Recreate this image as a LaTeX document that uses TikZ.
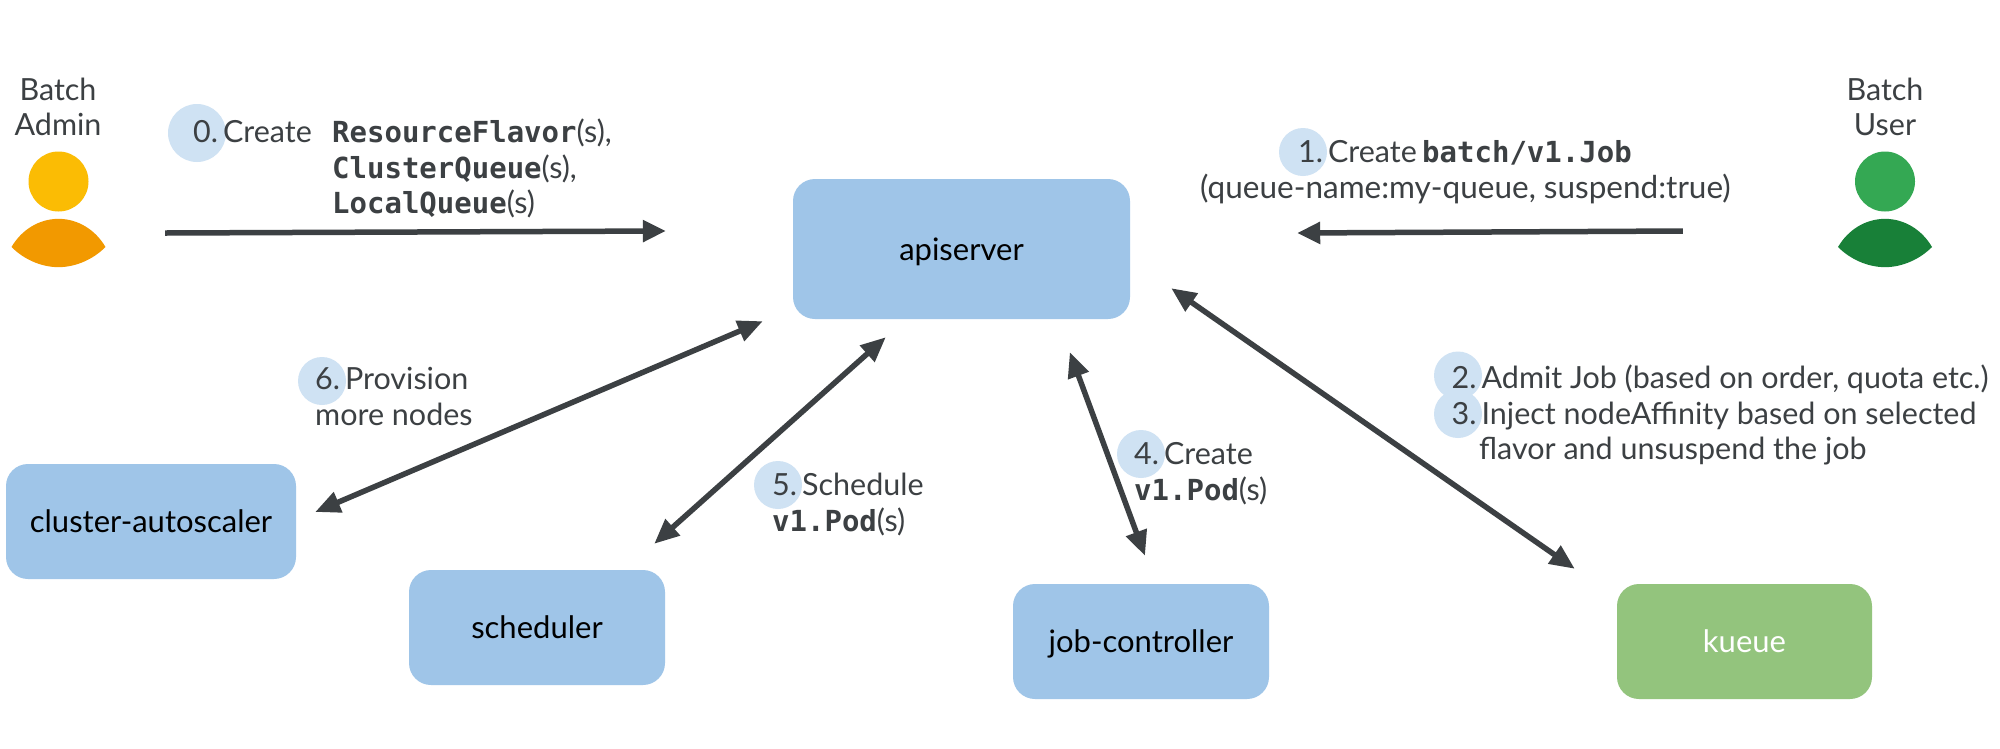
\documentclass[tikz,border=0pt]{standalone}
\usepackage{fontspec}
\setmainfont{Lato}
\newfontfamily\monob[BoldFont={DejaVu Sans Mono Bold}]{DejaVu Sans Mono}
\newcommand{\mb}[1]{{\monob\bfseries\fontsize{29}{34}\selectfont #1}}
\newcommand{\boxtext}[1]{\raisebox{-11pt}[0pt][0pt]{#1}}
\newcommand{\numgap}{\hspace{5pt}}
\newcommand{\lensbody}[2]{\fill[#2] ($(#1.center)+(-47,4)$)
  .. controls ($(#1.center)+(-37,-13)$) and ($(#1.center)+(-20,-24)$) .. (#1.north)
  .. controls ($(#1.center)+(20,-24)$) and ($(#1.center)+(37,-13)$) .. ($(#1.center)+(47,4)$)
  .. controls ($(#1.center)+(35,16)$) and ($(#1.center)+(18,24)$) .. (#1.south)
  .. controls ($(#1.center)+(-18,24)$) and ($(#1.center)+(-35,16)$) .. cycle;}
\usetikzlibrary{arrows.meta,calc}
\definecolor{boxblue}{HTML}{9FC5E8}
\definecolor{boxgreen}{HTML}{93C47D}
\definecolor{stepblue}{HTML}{CFE2F3}
\definecolor{ink}{HTML}{3C4043}
\definecolor{amberA}{HTML}{FBBC04}
\definecolor{amberB}{HTML}{F29900}
\definecolor{greenA}{HTML}{34A853}
\definecolor{greenB}{HTML}{188038}
\tikzset{
  x=1pt,y=-1pt,
  comp/.style={rectangle,rounded corners=22pt,inner sep=0pt,text=black,font=\fontsize{31}{36}\selectfont},
  compblue/.style={comp,fill=boxblue},
  lbl/.style={anchor=base west,inner sep=0pt,text=ink,font=\fontsize{30.5}{36}\selectfont},
  actor/.style={anchor=base,inner sep=0pt,text=ink,font=\fontsize{30.5}{36}\selectfont},
  badge/.style={circle,fill=stepblue,inner sep=0pt,minimum size=48pt},
  oneway/.style={draw=ink,line width=5.5pt,-{Triangle[length=23pt,width=21pt]}},
  twoway/.style={draw=ink,line width=5.5pt,{Triangle[length=25pt,width=21pt]}-{Triangle[length=25pt,width=21pt]}},
}
\begin{document}
\begin{tikzpicture}
\useasboundingbox (0,0) rectangle (2000,748);
\fill[white] (0,0) rectangle (2000,748);

% boxes
\node[compblue,minimum width=337pt,minimum height=140pt] (api) at (961.5,249) {\boxtext{apiserver}};
\node[compblue,minimum width=290pt,minimum height=115pt] (auto) at (151,521.5) {\boxtext{cluster-autoscaler}};
\node[compblue,minimum width=256pt,minimum height=115pt] (sched) at (537,627.5) {\boxtext{scheduler}};
\node[compblue,minimum width=256pt,minimum height=115pt] (jobc) at (1141,641.5) {\boxtext{job-controller}};
\node[comp,fill=boxgreen,text=white,minimum width=255pt,minimum height=115pt] (kueue) at (1744.5,641.5) {\boxtext{kueue}};

% badges
\node[badge,minimum size=58pt] (b0) at (197,133) {};
\node[badge] (b1) at (1303,152) {};
\node[badge] (b2) at (1458,375.5) {};
\node[badge] (b3) at (1458,414) {};
\node[badge] (b4) at (1141,454) {};
\node[badge] (b5) at (778,485) {};
\node[badge] (b6) at (322,381) {};

% actors
\node[circle,fill=amberA,minimum size=60pt,inner sep=0pt] (adminhead) at (58.5,181.5) {};
\node[inner sep=0pt,minimum width=93pt,minimum height=48pt] (adminbody) at (58.5,243) {};
\lensbody{adminbody}{amberB}
\node[circle,fill=greenA,minimum size=60pt,inner sep=0pt] (userhead) at (1885,181.5) {};
\node[inner sep=0pt,minimum width=94pt,minimum height=48pt] (userbody) at (1885,243) {};
\lensbody{userbody}{greenB}

% actor labels
\node[actor] (adm1) at (58,100) {Batch};
\node[actor] (adm2) at (58,135) {Admin};
\node[actor] (usr1) at (1885,100) {Batch};
\node[actor] (usr2) at (1885,135) {User};

% step labels
\node[lbl] (t0) at (193,142) {0.\numgap Create};
\node[lbl] (t0a) at (332,142) {\mb{ResourceFlavor}(s),};
\node[lbl] (t0b) at (332,178) {\mb{ClusterQueue}(s),};
\node[lbl] (t0c) at (332,213) {\mb{LocalQueue}(s)};
\node[lbl] (t1) at (1298,162) {1.\numgap Create};
\node[lbl] (t1b) at (1422,162) {\mb{batch/v1.Job}};
\node[lbl,font=\fontsize{31.5}{36}\selectfont] (t1a) at (1200,198) {(queue-name:my-queue, suspend:true)};
\node[lbl] (t2) at (1451.5,388) {2.\numgap Admit Job (based on order, quota etc.)};
\node[lbl] (t3) at (1451.5,424) {3.\numgap Inject nodeAffinity based on selected};
\node[lbl] (t3a) at (1479,459) {flavor and unsuspend the job};
\node[lbl] (t4) at (1134,464) {4.\numgap Create};
\node[lbl] (t4a) at (1134,500) {\mb{v1.Pod}(s)};
\node[lbl] (t5) at (772,495) {5.\numgap Schedule};
\node[lbl] (t5a) at (772,531) {\mb{v1.Pod}(s)};
\node[lbl] (t6) at (315,389) {6.\numgap Provision};
\node[lbl] (t6a) at (315,425) {more nodes};

% connectors
\draw[oneway] ($(adminbody.east)+(60,-10)$) -- ($(api.west)+(-127,-18)$);
\draw[oneway] ($(userbody.west)+(-155,-12)$) -- ($(api.east)+(167,-16)$);
\draw[twoway] ($(api.south west)+(-30,2)$) -- ($(auto.east)+(19,-9.5)$);
\draw[twoway] ($(api.south west)+(93,18)$) -- ($(sched.north east)+(-11,-26)$);
\draw[twoway] ($(api.south west)+(277,33)$) -- ($(jobc.north)+(4,-28)$);
\draw[twoway] ($(api.south east)+(41,-31)$) -- ($(kueue.north west)+(-42,-15)$);
\end{tikzpicture}
\end{document}
